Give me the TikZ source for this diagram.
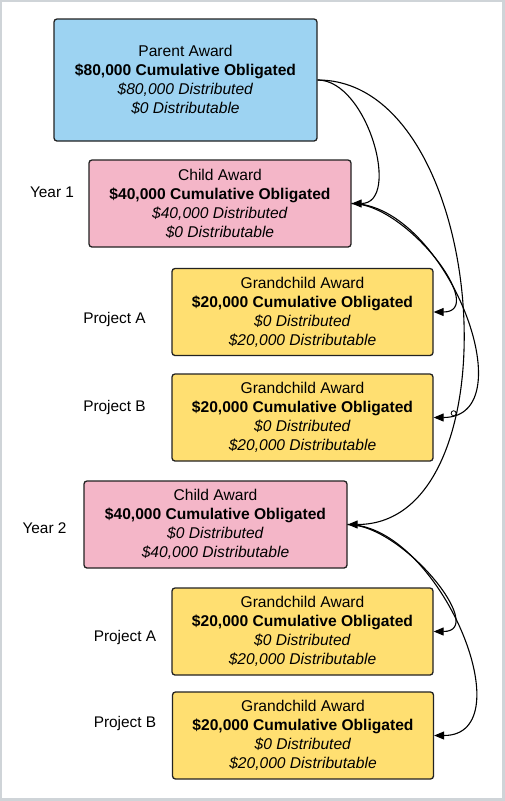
\documentclass[tikz,border=0pt]{standalone}
\usepackage{fontspec}
\setmainfont{Liberation Sans}
\usetikzlibrary{arrows.meta,intersections}
\definecolor{framegray}{RGB}{207,212,216}
\definecolor{pblue}{RGB}{157,211,242}
\definecolor{cpink}{RGB}{244,182,200}
\definecolor{gyellow}{RGB}{255,223,113}
\definecolor{edgegray}{RGB}{34,34,34}
\begin{document}
\begin{tikzpicture}[x=1pt,y=-1pt,
  award/.style={draw=edgegray, line width=1.3pt, rounded corners=3pt, align=center,
    font=\fontsize{15.6}{19}\selectfont, inner sep=0pt, minimum width=261pt, minimum height=87pt},
  lbl/.style={font=\fontsize{15.4}{19}\selectfont, inner sep=0pt},
  conn/.style={draw=black, line width=1.1pt, -{Triangle[length=10pt,width=8pt]}},
  hopmark/.style={circle, draw=black, fill=white, inner sep=0pt, minimum size=5pt, line width=0.8pt}]
\fill[framegray] (0,0) rectangle (505,801);
\fill[white] (2,2) rectangle (502,798);
\useasboundingbox (0,0) rectangle (505,801);

\node[award, fill=pblue, minimum width=263pt, minimum height=122pt] (P) at (185.5,80)
  {Parent Award\\\textbf{\$80,000 Cumulative Obligated}\\\textit{\$80,000 Distributed}\\\textit{\$0 Distributable}};
\node[award, fill=cpink, minimum width=262pt] (C1) at (220,203.5)
  {Child Award\\\textbf{\$40,000 Cumulative Obligated}\\\textit{\$40,000 Distributed}\\\textit{\$0 Distributable}};
\node[award, fill=gyellow] (GA1) at (302.5,312)
  {Grandchild Award\\\textbf{\$20,000 Cumulative Obligated}\\\textit{\$0 Distributed}\\\textit{\$20,000 Distributable}};
\node[award, fill=gyellow] (GB1) at (302.5,417.5)
  {Grandchild Award\\\textbf{\$20,000 Cumulative Obligated}\\\textit{\$0 Distributed}\\\textit{\$20,000 Distributable}};
\node[award, fill=cpink, minimum width=263pt] (C2) at (215.5,524.5)
  {Child Award\\\textbf{\$40,000 Cumulative Obligated}\\\textit{\$0 Distributed}\\\textit{\$40,000 Distributable}};
\node[award, fill=gyellow] (GA2) at (302.5,631.5)
  {Grandchild Award\\\textbf{\$20,000 Cumulative Obligated}\\\textit{\$0 Distributed}\\\textit{\$20,000 Distributable}};
\node[award, fill=gyellow] (GB2) at (303,735.5)
  {Grandchild Award\\\textbf{\$20,000 Cumulative Obligated}\\\textit{\$0 Distributed}\\\textit{\$20,000 Distributable}};

\node[lbl] (L1) at (52,192) {Year 1};
\node[lbl] (L2) at (114.5,319.5) {Project A};
\node[lbl] (L3) at (114.5,407.5) {Project B};
\node[lbl] (L4) at (44.5,528) {Year 2};
\node[lbl] (L5) at (125,637.5) {Project A};
\node[lbl] (L6) at (125,724) {Project B};

\draw[conn] (P.east) .. controls +(50,0) and +(50,0) .. (C1.east);
\draw[conn, name path=ptwo] (P.east) .. controls +(172,0) and +(172,0) .. (C2.east);
\draw[conn] (C1.east) .. controls +(55,0) and +(55,0) .. (GA1.east);
\draw[conn, name path=gtwo] (C1.east) .. controls +(94,0) and +(94,0) .. (GB1.east);
\draw[conn] (C2.east) .. controls +(55,0) and +(55,0) .. (GA2.east);
\draw[conn] (C2.east) .. controls +(92,0) and +(92,0) .. (GB2.east);

\path[name intersections={of=ptwo and gtwo, sort by=ptwo, name=ix, total=\nix}]
  (ix-\nix) node[hopmark] (hop) {};
\end{tikzpicture}
\end{document}
